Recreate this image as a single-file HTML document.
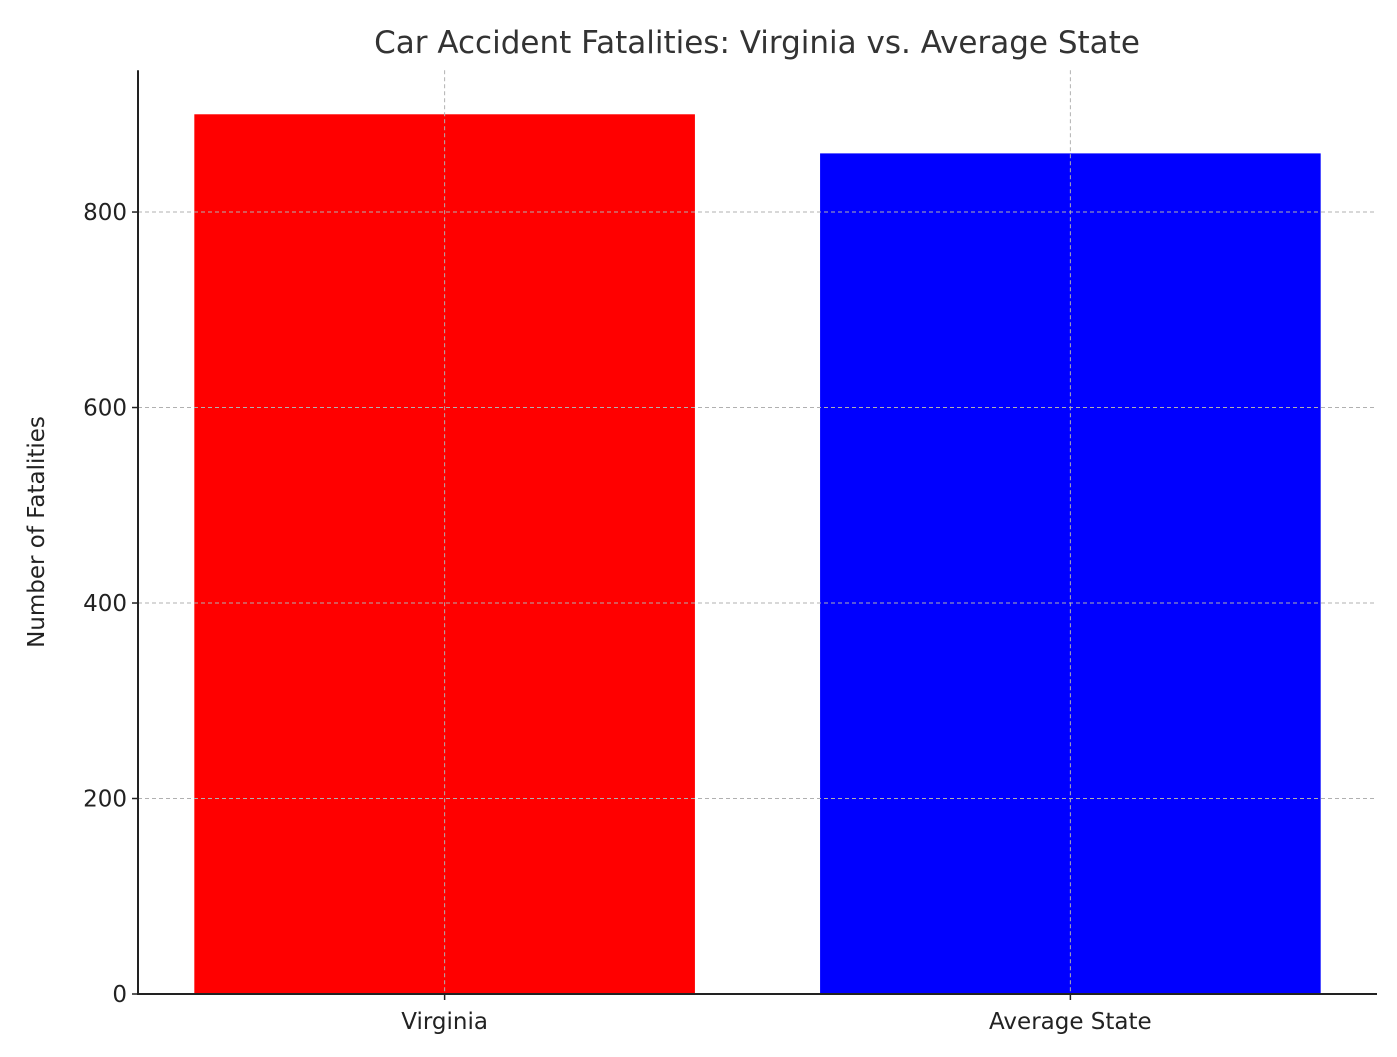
<!DOCTYPE html>
<html><head><meta charset="utf-8"><style>
html,body{margin:0;padding:0;background:#fff;}
svg{display:block;font-family:"DejaVu Sans","Liberation Sans",sans-serif;}
</style></head><body>
<svg id="chart" width="1397" height="1057">
<text x="757" y="53" text-anchor="middle" font-size="31" fill="#333">Car Accident Fatalities: Virginia vs. Average State</text>
<text transform="translate(44,532) rotate(-90)" text-anchor="middle" font-size="23" fill="#222">Number of Fatalities</text>
<g id="bars"></g><g id="grid"></g><g id="axes"></g>
</svg>
<script>
const categories = ["Virginia", "Average State"];
const values = [900, 860];
const colors = ["#ff0000", "#0000ff"];
const yTicks = [0, 200, 400, 600, 800];
const NS = "http://www.w3.org/2000/svg";
const L = 138, R = 1377, B = 994, T = 70.3;
const yMax = 945, xMin = -0.49, xMax = 1.49;
const y = v => B - v / yMax * (B - T);
const x = i => L + (i - xMin) / (xMax - xMin) * (R - L);
function mk(tag, attrs, parent) { const e = document.createElementNS(NS, tag); for (const k in attrs) e.setAttribute(k, attrs[k]); parent.appendChild(e); return e; }
const gb = document.getElementById("bars"), gg = document.getElementById("grid"), ga = document.getElementById("axes");
const bw = 0.8 * (R - L) / (xMax - xMin);
categories.forEach((c, i) => {
  const r = mk("rect", {x: x(i) - bw / 2, y: y(values[i]), width: bw, height: B - y(values[i]), fill: colors[i]}, gb);
  
  
  const gl = mk("line", {x1: x(i), x2: x(i), y1: T, y2: B, stroke: "#b0b0b0", "stroke-dasharray": "4,3", "stroke-width": 1}, gg);
  
  
  mk("line", {x1: x(i), x2: x(i), y1: B, y2: B + 6, stroke: "#222", "stroke-width": 1.5}, ga);
  const t = mk("text", {x: x(i), y: B + 35, "text-anchor": "middle", "font-size": 23, fill: "#222"}, ga);
  t.textContent = c;
  
  
});
yTicks.forEach(v => {
  if (v > 0) {
    const gl = mk("line", {x1: L, x2: R, y1: y(v), y2: y(v), stroke: "#b0b0b0", "stroke-dasharray": "4,3", "stroke-width": 1}, gg);
    
    
  }
  mk("line", {x1: L - 6, x2: L, y1: y(v), y2: y(v), stroke: "#222", "stroke-width": 1.5}, ga);
  const t = mk("text", {x: L - 11, y: y(v) + 8, "text-anchor": "end", "font-size": 23, fill: "#222"}, ga);
  t.textContent = v;
  
  
});
const ys = mk("line", {x1: L, x2: L, y1: T, y2: B + 1, stroke: "#222", "stroke-width": 2}, ga);


const xs = mk("line", {x1: L - 1, x2: R, y1: B, y2: B, stroke: "#222", "stroke-width": 2}, ga);


</script>
</body></html>
